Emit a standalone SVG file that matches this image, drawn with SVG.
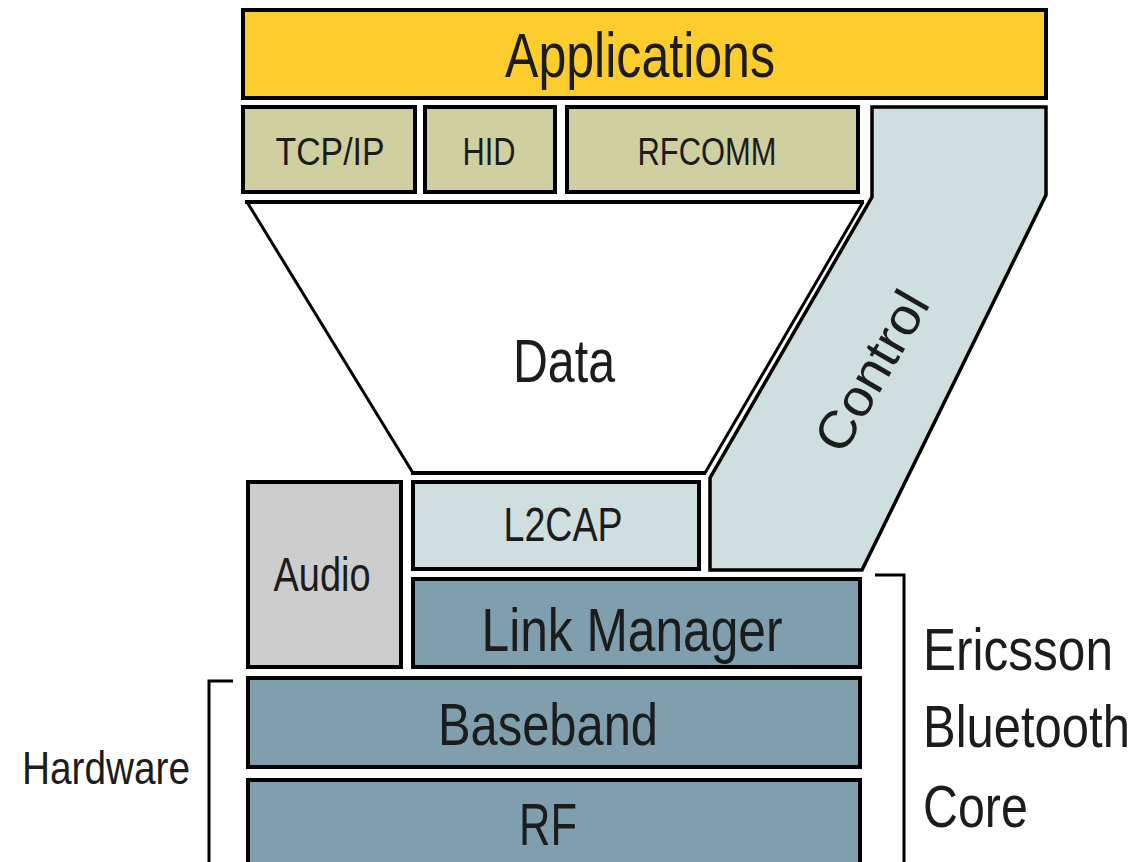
<svg xmlns="http://www.w3.org/2000/svg" width="1140" height="862" viewBox="0 0 1140 862">
<style>
.box{stroke:#000;stroke-width:4}
.app{fill:#FDCD2E}
.proto{fill:#CFCFA0}
.light{fill:#CFDEDF}
.audio{fill:#CDCDCD}
.core{fill:#7F9FAF}
.ln{fill:none;stroke:#000;stroke-width:3}
text{font-family:"Liberation Sans",Arial,sans-serif;fill:#1c1c1c}
.c{text-anchor:middle}
</style>
<rect width="1140" height="862" fill="#fff"/>
<g id="applications"><rect class="box app" x="243" y="10" width="803" height="88"/><text class="c" x="640" y="77" font-size="63" textLength="270" lengthAdjust="spacingAndGlyphs">Applications</text></g>
<g id="tcpip"><rect class="box proto" x="243" y="107" width="172" height="85"/><text class="c" x="330" y="165" font-size="39" textLength="109" lengthAdjust="spacingAndGlyphs">TCP/IP</text></g>
<g id="hid"><rect class="box proto" x="425" y="107" width="130" height="85"/><text class="c" x="489" y="165" font-size="39" textLength="53" lengthAdjust="spacingAndGlyphs">HID</text></g>
<g id="rfcomm"><rect class="box proto" x="567" y="107" width="291" height="85"/><text class="c" x="707" y="165" font-size="39" textLength="139" lengthAdjust="spacingAndGlyphs">RFCOMM</text></g>
<g id="data"><polygon points="247,202 863,202 705,473 413,473" fill="#fff" stroke="none"/><path class="ln" d="M247,202 L413,473"/><path d="M245,202 L864,202 M411,473 L706,473" stroke="#000" stroke-width="4" fill="none"/><path class="ln" d="M863,202 L705,473"/><text class="c" x="564" y="382" font-size="61" textLength="102" lengthAdjust="spacingAndGlyphs">Data</text></g>
<g id="control"><polygon class="light" points="872,107 1046,107 1046,195 862,570 710,570 710,478 872,197" stroke="#000" stroke-width="3.5" stroke-linejoin="miter"/><text class="c" transform="translate(887,380) rotate(-60)" x="0" y="0" font-size="52" textLength="176" lengthAdjust="spacingAndGlyphs">Control</text></g>
<g id="audio"><rect class="box audio" x="248" y="482" width="153" height="185"/><text class="c" x="322" y="591" font-size="49" textLength="97" lengthAdjust="spacingAndGlyphs">Audio</text></g>
<g id="l2cap"><rect class="box light" x="413" y="482" width="286" height="87"/><text class="c" x="563" y="541" font-size="49" textLength="119" lengthAdjust="spacingAndGlyphs">L2CAP</text></g>
<g id="link-manager"><rect class="box core" x="413" y="579" width="447" height="88"/><text class="c" x="632" y="651" font-size="61" textLength="301" lengthAdjust="spacingAndGlyphs">Link Manager</text></g>
<g id="baseband"><rect class="box core" x="248" y="678" width="612" height="89"/><text class="c" x="548" y="745" font-size="59" textLength="220" lengthAdjust="spacingAndGlyphs">Baseband</text></g>
<g id="rf"><rect class="box core" x="248" y="780" width="612" height="120"/><text class="c" x="548" y="845" font-size="59" textLength="58" lengthAdjust="spacingAndGlyphs">RF</text></g>
<g id="connectors">
<path class="ln" d="M875,575 L904,575 L904,862"/>
<path class="ln" d="M233,681 L209,681 L209,862"/>
</g>
<g id="ericsson-label"><text transform="translate(923,670) scale(0.84,1)" font-size="59">Ericsson</text><text transform="translate(923,747) scale(0.83,1)" font-size="59">Bluetooth</text><text transform="translate(923,827) scale(0.82,1)" font-size="59">Core</text></g>
<g id="hardware-label"><text x="22" y="784" font-size="46" textLength="168" lengthAdjust="spacingAndGlyphs">Hardware</text></g>
</svg>
